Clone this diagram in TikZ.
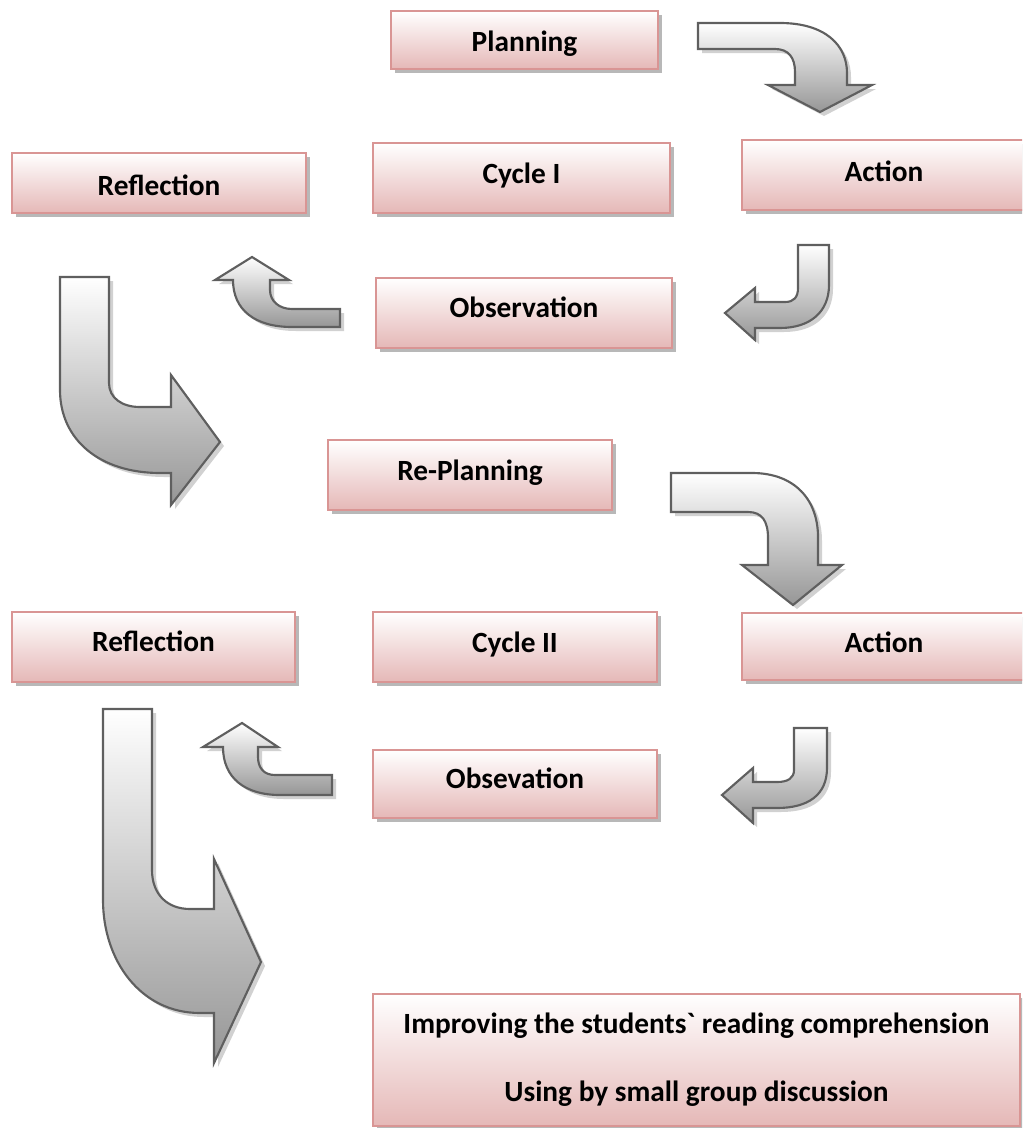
\documentclass[tikz,border=0pt]{standalone}
\usepackage{fontspec}
\setmainfont{Carlito}[Ligatures=TeXOff]
\usetikzlibrary{shadows}
\definecolor{boxbot}{RGB}{229,184,183}
\definecolor{boxborder}{RGB}{217,149,148}
\definecolor{arrline}{RGB}{95,95,95}
\definecolor{arrbot}{RGB}{150,150,150}
\tikzset{
  pbox/.style n args={2}{rectangle, draw=boxborder, line width=1.4pt,
    top color=white, bottom color=boxbot,
    drop shadow={shadow xshift=3pt, shadow yshift=-3pt, fill=black, opacity=0.28},
    minimum width=#1*0.75pt, minimum height=#2*0.75pt, inner sep=0pt,
    font=\fontsize{22pt}{26pt}\selectfont\bfseries, align=center},
  barrowsty/.style={top color=white, bottom color=arrbot, draw=arrline, line width=1.6pt, line join=miter},
  barrowshadow/.style={fill=black, opacity=0.18, xshift=3pt, yshift=-3pt}
}
\newcommand\blockarrow[1]{%
  \path[barrowshadow] #1;
  \path[barrowsty] #1;
}
\newcommand\lift[2]{\raisebox{#1}[\height][\depth]{#2}}
\begin{document}
\begin{tikzpicture}[x=0.75pt,y=-0.75pt]
\useasboundingbox (0,0) rectangle (1022,1128);
\clip (0,0) rectangle (1022,1128);

% boxes
\node[pbox={267}{58}] (plan) at (524.5,40) {\lift{-3pt}{Planning}};
\node[pbox={284}{70}] (act1) at (884,175) {\lift{3pt}{Action}};
\node[pbox={297}{70}] (cyc1) at (521.5,178) {\lift{2pt}{Cycle I}};
\node[pbox={294}{60}] (ref1) at (159,183) {\lift{-1.5pt}{Reflection}};
\node[pbox={296}{70}] (obs1) at (524,313) {\lift{4pt}{Observation}};
\node[pbox={284}{70}] (replan) at (470,475) {\lift{2pt}{Re-Planning}};
\node[pbox={283}{70}] (ref2) at (153.5,647) {\lift{4pt}{Reflection}};
\node[pbox={284}{70}] (cyc2) at (515,647) {\lift{1.5pt}{Cycle II}};
\node[pbox={284}{67}] (act2) at (884,646.5) {\lift{3pt}{Action}};
\node[pbox={284}{68}] (obs2) at (515,784) {\lift{4pt}{Obsevation}};
\node[pbox={647}{132}] (result) at (696.5,1060)
  {Improving the students` reading comprehension\\[25pt]Using by small group discussion};

% block arrows
% Planning -> Action
\blockarrow{(698,23) -- (780,23) .. controls (825,23) and (847,45) .. (847,73) -- (847,85) -- (872,85) -- (820,112) -- (768,85) -- (795,85) -- (795,72) .. controls (795,57) and (788,49) .. (775,49) -- (698,49) -- cycle}
% Action -> Observation
\blockarrow{(798,245) -- (829,245) -- (829,285) .. controls (829,312) and (810,328) .. (780,328) -- (755,328) -- (755,340) -- (725,313) -- (755,288) -- (755,302) -- (785,302) .. controls (794,302) and (798,297) .. (798,288) -- cycle}
% Observation -> Reflection
\blockarrow{(340,309) -- (292,309) .. controls (279,309) and (270,301) .. (270,290) -- (270,280) -- (289,280) -- (252,257) -- (215,280) -- (233,280) .. controls (233,310) and (255,327) .. (292,327) -- (340,327) -- cycle}
% Reflection -> Re-Planning
\blockarrow{(60,277) -- (109,277) -- (109,383) .. controls (109,398) and (122,407) .. (140,407) -- (171,407) -- (171,375) -- (220,442) -- (171,505) -- (171,473) -- (160,473) .. controls (100,473) and (60,440) .. (60,390) -- cycle}
% Re-Planning -> Action
\blockarrow{(671,473) -- (752,473) .. controls (795,473) and (818,500) .. (818,537) -- (818,565) -- (842,565) -- (793,605) -- (742,565) -- (768,565) -- (768,538) .. controls (768,521) and (762,512) .. (748,512) -- (671,512) -- cycle}
% Action -> Obsevation
\blockarrow{(794,728) -- (827,728) -- (827,768) .. controls (827,795) and (808,808) .. (777,808) -- (753,808) -- (753,823) -- (722,795) -- (753,768) -- (753,782) -- (777,782) .. controls (788,782) and (794,778) .. (794,770) -- cycle}
% Obsevation -> Reflection
\blockarrow{(332,775) -- (275,775) .. controls (264,775) and (258,768) .. (258,757) -- (258,747) -- (278,747) -- (242,723) -- (203,747) -- (223,747) .. controls (223,778) and (245,795) .. (280,795) -- (332,795) -- cycle}
% Reflection -> Result
\blockarrow{(103,709) -- (152,709) -- (152,870) .. controls (152,895) and (168,909) .. (190,909) -- (214,909) -- (214,859) -- (261,962) -- (214,1063) -- (214,1013) -- (200,1013) .. controls (140,1013) and (103,960) .. (103,900) -- cycle}
\end{tikzpicture}
\end{document}
